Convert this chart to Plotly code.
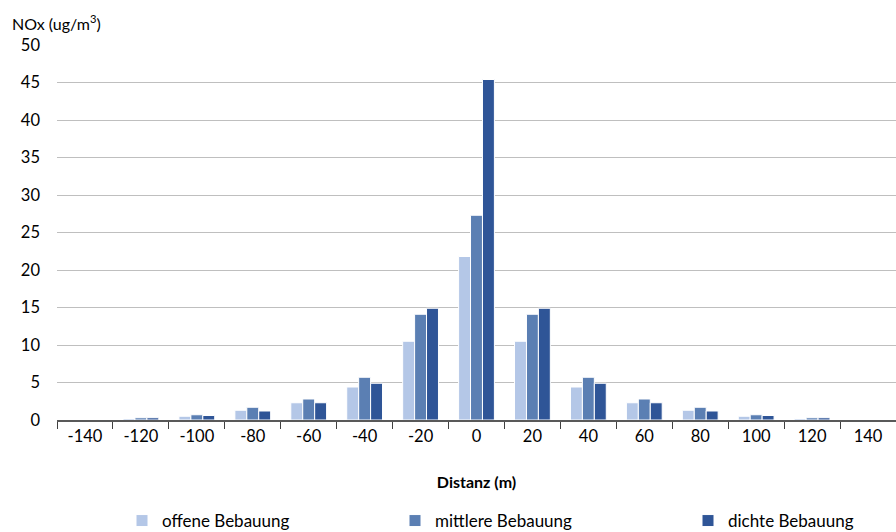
import plotly.graph_objects as go

distanz = ["-140", "-120", "-100", "-80", "-60", "-40", "-20", "0",
           "20", "40", "60", "80", "100", "120", "140"]
offene = [0, 0.2, 0.5, 1.3, 2.3, 4.4, 10.5, 21.8, 10.5, 4.4, 2.3, 1.3, 0.5, 0.2, 0]
mittlere = [0, 0.3, 0.7, 1.7, 2.8, 5.7, 14.1, 27.3, 14.1, 5.7, 2.8, 1.7, 0.7, 0.3, 0]
dichte = [0, 0.3, 0.6, 1.2, 2.3, 4.9, 14.9, 45.4, 14.9, 4.9, 2.3, 1.2, 0.6, 0.3, 0]

serien = [
    ("offene Bebauung", offene, "#B4C7E7", "legend"),
    ("mittlere Bebauung", mittlere, "#5B7FB3", "legend2"),
    ("dichte Bebauung", dichte, "#2F5597", "legend3"),
]

fig = go.Figure()
for name, werte, farbe, leg in serien:
    fig.add_trace(go.Bar(
        x=distanz, y=werte, name=name, legend=leg, showlegend=True,
        marker=dict(color=farbe, line=dict(color="white", width=1)),
    ))

schrift = "Lato, 'Open Sans', sans-serif"
# Plotfläche: x 57..896, y 45..420 (Pixel)
pw, ph = 839, 375


def leg_pos(left_px):
    return dict(
        x=(left_px - 57) / pw, xanchor="left",
        y=-(521 - 420) / ph, yanchor="middle",
        orientation="h", font=dict(size=17), itemwidth=30,
        bgcolor="rgba(0,0,0,0)",
    )


fig.update_layout(
    width=896, height=532,
    margin=dict(l=57, r=0, t=45, b=112, autoexpand=False),
    plot_bgcolor="white", paper_bgcolor="white",
    font=dict(family=schrift, size=16, color="#000000"),
    barmode="group", bargap=0.36, bargroupgap=0,
    showlegend=True,
    legend=leg_pos(122),
    legend2=leg_pos(395),
    legend3=leg_pos(688),
    annotations=[dict(
        text="NOx (ug/m<sup>3</sup>)", x=(10 - 57) / pw, y=1 + 23 / ph,
        xref="paper", yref="paper",
        showarrow=False, xanchor="left", yanchor="middle", font=dict(size=16),
    )],
)
fig.update_xaxes(
    type="category", showline=True, linecolor="#595959", linewidth=1.5,
    ticks="outside", tickson="boundaries", ticklen=7, tickcolor="#404040",
    showgrid=False, tickfont=dict(size=16.5),
    title=dict(text="<b>Distanz (m)</b>", font=dict(size=16), standoff=32),
)
fig.update_yaxes(
    range=[0, 50], dtick=5, showgrid=True, gridcolor="#BFBFBF", gridwidth=1.3,
    showline=False, zeroline=False, ticks="", ticklabelstandoff=16,
    tickfont=dict(size=16.5),
)

fig.write_html(
    "out.html",
    config={"displayModeBar": False},
    post_script="document.body.style.margin = '0';",
)
